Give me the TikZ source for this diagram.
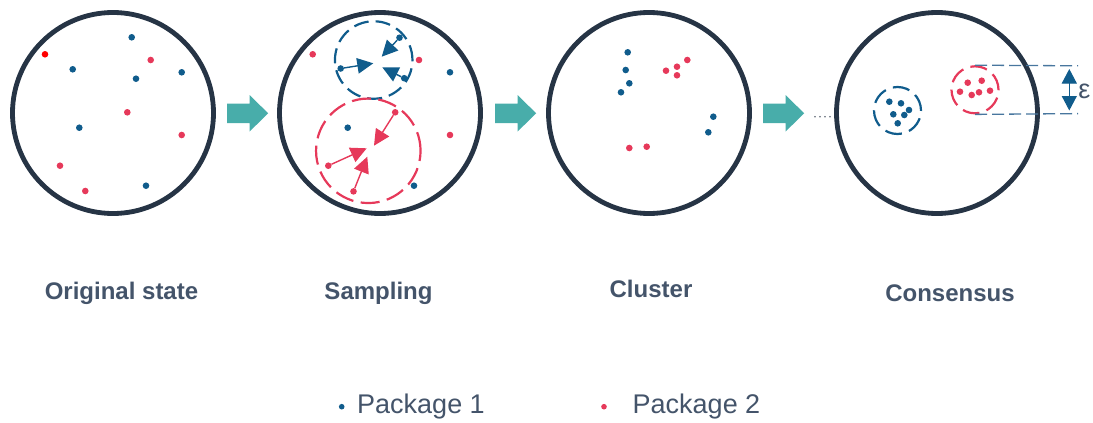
\documentclass[tikz,border=0pt]{standalone}
\usepackage{fontspec}
\setmainfont{Liberation Sans}
\usetikzlibrary{arrows.meta}
\definecolor{pblue}{RGB}{16,92,140}
\definecolor{pred}{RGB}{230,57,90}
\definecolor{bright}{RGB}{255,0,0}
\definecolor{ringc}{RGB}{38,52,69}
\definecolor{tealarrow}{RGB}{72,173,170}
\definecolor{labelgray}{RGB}{68,84,106}
\definecolor{guide}{RGB}{72,118,158}
\definecolor{ellipsisc}{RGB}{90,98,112}
\begin{document}
\begin{tikzpicture}[x=1pt,y=-1pt,
  bdot/.style={circle,fill=pblue,inner sep=0pt,minimum size=6.6pt},
  rdot/.style={circle,fill=pred,inner sep=0pt,minimum size=6.6pt},
  ringstyle/.style={circle,draw=ringc,line width=4.8pt,inner sep=0pt,minimum size=201pt},
  bdash/.style={circle,draw=pblue,line width=2.2pt,inner sep=0pt},
  rdash/.style={circle,draw=pred,line width=2.2pt,inner sep=0pt},
  barrow/.style={draw=pblue,fill=pblue,line width=1.4pt,-{Triangle[length=16pt,width=15.5pt]}},
  rarrow/.style={draw=pred,fill=pred,line width=1.4pt,-{Triangle[length=16pt,width=15.5pt]}},
  lbl/.style={font=\fontsize{24}{28}\selectfont\bfseries,text=labelgray,inner sep=0pt,anchor=base},
  legend/.style={font=\fontsize{27}{32}\selectfont,text=labelgray,inner sep=0pt,anchor=base},
  guideline/.style={draw=guide,line width=1.3pt,dash pattern=on 12pt off 5pt}]
\useasboundingbox (0,0) rectangle (1093,423);

% rings
\node[ringstyle] (ring1) at (113,113) {};
\node[ringstyle] (ring2) at (380,113) {};
\node[ringstyle] (ring3) at (649,113) {};
\node[ringstyle] (ring4) at (937,113) {};

% teal arrows
\foreach \x in {227,495,763}
  \fill[tealarrow] (\x,103.6) -- ++(22.5,0) -- ++(0,-8.6) -- ++(18.7,18.3) -- ++(-18.7,18.3) -- ++(0,-8.6) -- ++(-22.5,0) -- cycle;

% ellipsis
\coordinate (e1) at (815,116.7);
\coordinate (e2) at (830,116.7);
\draw[ellipsisc,line width=1.7pt,dash pattern=on 0pt off 5pt,line cap=round] (e1) -- (e2);

% circle 1 dots
\node[circle,fill=bright,inner sep=0pt,minimum size=6.6pt] (a1) at (45,54.3) {};
\node[bdot] (a2) at (131.7,37.3) {};
\node[rdot] (a3) at (150.7,60) {};
\node[bdot] (a4) at (72.7,69.3) {};
\node[bdot] (a5) at (136,78.7) {};
\node[bdot] (a6) at (181.7,72.3) {};
\node[rdot] (a7) at (127.3,112.3) {};
\node[bdot] (a8) at (79.3,127.7) {};
\node[rdot] (a9) at (181.7,135) {};
\node[rdot] (a10) at (60,165.7) {};
\node[rdot] (a11) at (85.3,191) {};
\node[bdot] (a12) at (146,185.7) {};

% circle 2 dashed groups
\node[bdash,minimum size=77.5pt,dash pattern=on 15pt off 7pt] (bg) at (373.7,60) {};
\node[rdash,minimum size=104.5pt,dash pattern=on 19pt off 7.5pt] (rg) at (368.3,150.8) {};

% circle 2 dots
\node[rdot] (b1) at (312.7,54.3) {};
\node[bdot] (b2) at (399.5,37.7) {};
\node[rdot] (b3) at (419,60) {};
\node[bdot] (b4) at (340.7,68.5) {};
\node[bdot] (b5) at (404.2,78.2) {};
\node[bdot] (b6) at (450,72.3) {};
\node[rdot] (b7) at (395.2,112.3) {};
\node[bdot] (b8) at (347.7,127.7) {};
\node[rdot] (b9) at (450,135) {};
\node[rdot] (b10) at (328.3,165.7) {};
\node[rdot] (b11) at (353.5,191.4) {};
\node[bdot] (b12) at (414,185.7) {};

% sampling arrows
\coordinate (tb1) at (373.3,63.3);
\coordinate (tb2) at (381.7,56.7);
\coordinate (tb3) at (382.3,67.3);
\coordinate (tr1) at (374,145.7);
\coordinate (tr2) at (366.7,148.3);
\coordinate (tr3) at (367.3,156.7);
\draw[barrow] (b4) -- (tb1);
\draw[barrow] (b2) -- (tb2);
\draw[barrow] (b5) -- (tb3);
\draw[rarrow] (b7) -- (tr1);
\draw[rarrow] (b10) -- (tr2);
\draw[rarrow] (b11) -- (tr3);

% circle 3 dots
\node[bdot] (c1) at (627.7,52.3) {};
\node[bdot] (c2) at (625.7,70) {};
\node[bdot] (c3) at (629.3,83.3) {};
\node[bdot] (c4) at (621,92.3) {};
\node[rdot] (c5) at (666,70.7) {};
\node[rdot] (c6) at (677,66.7) {};
\node[rdot] (c7) at (677,75.3) {};
\node[rdot] (c8) at (687.3,60) {};
\node[bdot] (c9) at (713.3,116.7) {};
\node[bdot] (c10) at (708.3,132.3) {};
\node[rdot] (c11) at (629.3,148) {};
\node[rdot] (c12) at (646.7,146.7) {};

% circle 4 clusters
\node[bdash,minimum size=47pt,dash pattern=on 17pt off 7.5pt] (bc) at (897.5,110.5) {};
\node[rdash,minimum size=47pt,dash pattern=on 17pt off 7.5pt] (rc) at (975,89.8) {};
\node[bdot] (d1) at (889.3,101.7) {};
\node[bdot] (d2) at (901,103.3) {};
\node[bdot] (d3) at (909,110) {};
\node[bdot] (d4) at (893.3,114.3) {};
\node[bdot] (d5) at (904.3,115) {};
\node[bdot] (d6) at (897.7,123.3) {};
\node[rdot] (f1) at (967.7,82.7) {};
\node[rdot] (f2) at (981.7,80.7) {};
\node[rdot] (f3) at (960,91.7) {};
\node[rdot] (f4) at (971.7,95) {};
\node[rdot] (f5) at (979,92.3) {};
\node[rdot] (f6) at (990,90.7) {};

% epsilon guides
\coordinate (gt) at (1078,65.8);
\coordinate (gb) at (1078,113.6);
\draw[guideline] (rc.north) -- (gt);
\draw[guideline] (rc.south) -- (gb);
\coordinate (et) at (1069.3,69);
\coordinate (eb) at (1069.3,110.5);
\draw[draw=pblue,fill=pblue,line width=1pt,{Triangle[length=14.5pt,width=15pt]}-{Triangle[length=14.5pt,width=15pt]}] (et) -- (eb);
\node[font=\fontsize{27}{32}\selectfont,text=labelgray,inner sep=0pt] (eps) at (1084.5,91) {ε};

% labels
\node[lbl] (l1) at (121.5,299) {Original state};
\node[lbl] (l2) at (378.5,299) {Sampling};
\node[lbl] (l3) at (651,297) {Cluster};
\node[lbl] (l4) at (950,301) {Consensus};

% legend
\node[circle,fill=pblue,inner sep=0pt,minimum size=5.6pt] (k1) at (341.7,406.7) {};
\node[circle,fill=pred,inner sep=0pt,minimum size=5.6pt] (k2) at (604,406.7) {};
\node[legend] (p1) at (421,413) {Package 1};
\node[legend] (p2) at (696.5,413) {Package 2};
\end{tikzpicture}
\end{document}
